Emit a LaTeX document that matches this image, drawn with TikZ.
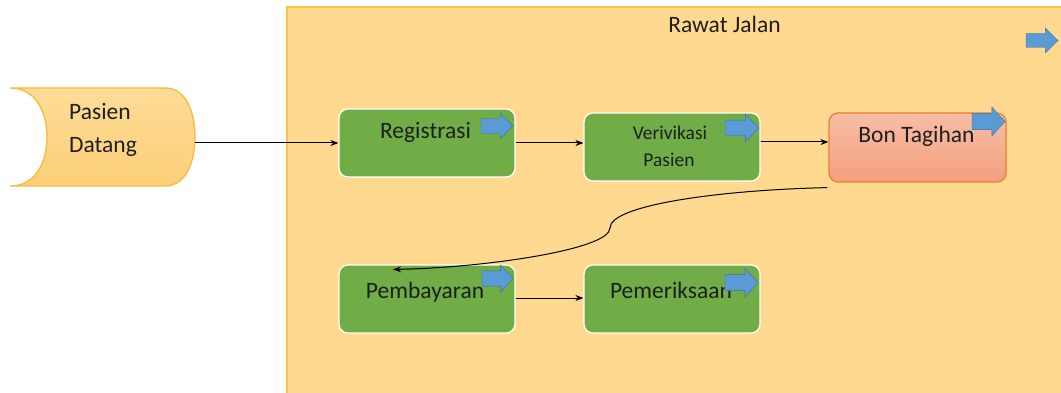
\documentclass[tikz,border=0pt]{standalone}
\usepackage{fontspec}
\setmainfont{Carlito}
\usetikzlibrary{arrows.meta}

\definecolor{laneFill}{HTML}{FFD98F}
\definecolor{laneLine}{HTML}{F7C444}
\definecolor{srcTop}{HTML}{FEDC98}
\definecolor{srcBot}{HTML}{FCCF78}
\definecolor{srcLine}{HTML}{F5BD35}
\definecolor{stepGreen}{HTML}{70AD47}
\definecolor{billTop}{HTML}{F7BDA6}
\definecolor{billBot}{HTML}{F4A07E}
\definecolor{billLine}{HTML}{ED7D31}
\definecolor{flowBlue}{HTML}{5B9BD5}
\definecolor{flowBlueLine}{HTML}{41719C}
\definecolor{ink}{HTML}{1E1E1E}

% small block arrow: left x, top y, width, height (y grows downward)
\newcommand{\blkarrow}[4]{%
  \fill[flowBlue, draw=flowBlueLine, line width=0.4pt]
    (#1,{#2+0.22*#4}) -- ({#1+0.6*#3},{#2+0.22*#4}) -- ({#1+0.6*#3},#2)
    -- ({#1+#3},{#2+0.5*#4}) -- ({#1+0.6*#3},{#2+#4})
    -- ({#1+0.6*#3},{#2+0.78*#4}) -- (#1,{#2+0.78*#4}) -- cycle;}

\tikzset{
  stepbox/.style={rectangle, rounded corners=9pt, fill=stepGreen, draw=white,
    line width=1.2pt, minimum width=176pt, minimum height=68pt, inner sep=0pt},
  billbox/.style={rectangle, rounded corners=9pt, top color=billTop,
    bottom color=billBot, draw=billLine, line width=1.2pt,
    minimum width=177pt, minimum height=69pt, inner sep=0pt},
  lbl/.style={text=ink, font=\fontsize{23.5}{26}\selectfont, anchor=base, inner sep=0pt},
  lblsmall/.style={text=ink, font=\fontsize{19.5}{22}\selectfont, anchor=base, inner sep=0pt},
  flow/.style={draw=black, line width=1pt, -{Stealth[length=8pt,width=6pt]}},
}

\begin{document}
\begin{tikzpicture}[x=1pt, y=-1pt]
\useasboundingbox (0,0) rectangle (1061,393);
\fill[white] (0,0) rectangle (1061,393);

% swimlane
\draw[fill=laneFill, draw=laneLine, line width=1.5pt] (287,7) rectangle (1066,398);
\node[lbl] (lane) at (724.5,33) {Rawat Jalan};

% source shape
\shade[top color=srcTop, bottom color=srcBot, draw=srcLine, line width=1.3pt]
  (10,88) -- (165,88) .. controls (186,88) and (195,112) .. (195,137)
  .. controls (195,162) and (186,186) .. (165,186) -- (10,186)
  .. controls (36,186) and (47,162) .. (47,137)
  .. controls (47,112) and (36,88) .. (10,88) -- cycle;
\coordinate (src) at (195,143);
\node[lbl] (srcA) at (100,120) {Pasien};
\node[lbl] (srcB) at (103,153) {Datang};

% process boxes
\node[stepbox] (reg) at (427,143) {};
\node[stepbox] (ver) at (672,147) {};
\node[billbox] (bon) at (917.5,147.5) {};
\node[stepbox] (pay) at (427,299) {};
\node[stepbox] (exam) at (672,299) {};

\node[lbl] (regT) at (425.5,139) {Registrasi};
\node[lblsmall] (verA) at (670,140) {Verivikasi};
\node[lblsmall] (verB) at (669,167) {Pasien};
\node[lbl] (bonT) at (916.5,143) {Bon Tagihan};
\node[lbl] (payT) at (425,298) {Pembayaran};
\node[lbl] (examT) at (671,298) {Pemeriksaan};

% connectors
\draw[flow] (src) -- (reg.west |- src);
\draw[flow] (reg.east |- src) -- (ver.west |- src);
\draw[flow] (ver.east |- 0,142) -- (bon.west |- 0,142);
\coordinate (back0) at ([xshift=-1pt, yshift=-5pt]bon.south west);
\coordinate (back1) at ([xshift=-34pt, yshift=-5pt]pay.north);
\draw[flow] (back0) .. controls (720,190) and (610,205) .. (610,228)
  .. controls (610,250) and (480,268) .. (back1);
\draw[flow] (pay.east |- 0,298) -- (exam.west |- 0,298);

% flow markers
\blkarrow{1026}{28}{32}{25}
\blkarrow{481}{113}{32}{26}
\blkarrow{725}{114}{34}{28}
\blkarrow{972}{107}{33}{29}
\blkarrow{482}{265}{31}{27}
\blkarrow{725}{268}{33}{29}
\end{tikzpicture}
\end{document}
